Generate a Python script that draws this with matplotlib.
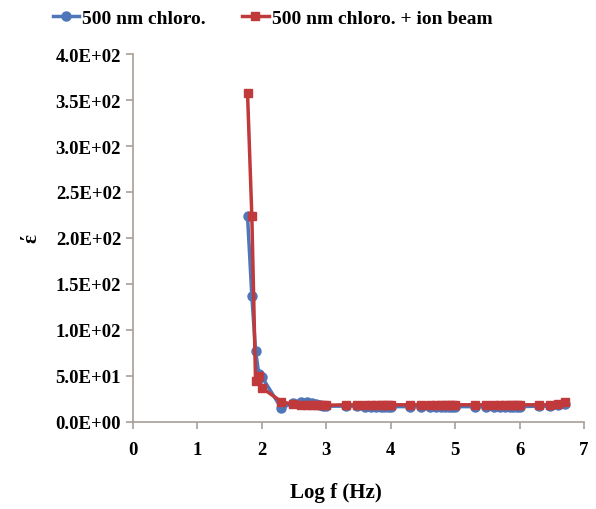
import numpy as np
import matplotlib
matplotlib.use('Agg')
import matplotlib.pyplot as plt
from matplotlib.ticker import FormatStrFormatter

plt.rcParams['font.family'] = ['Liberation Serif', 'DejaVu Serif']
plt.rcParams['font.weight'] = 'bold'

# measurement frequencies (Hz)
freq = [60, 70, 80, 90, 100,
        200, 300, 400, 500, 600, 700, 800, 900, 1000,
        2000, 3000, 4000, 5000, 6000, 7000, 8000, 9000, 10000,
        20000, 30000, 40000, 50000, 60000, 70000, 80000, 90000, 100000,
        200000, 300000, 400000, 500000, 600000, 700000, 800000, 900000, 1000000,
        2000000, 3000000, 4000000, 5000000]

eps_chloro = [224, 137, 77, 52, 49,
              15, 20, 21, 21, 20, 19, 18, 17, 17,
              17, 17, 16.5, 16.5, 16.5, 16.5, 16.5, 16.5, 16.5,
              16.5, 16.5, 16.5, 16.5, 16.5, 16.5, 16.5, 16.5, 16.5,
              16.5, 16.5, 16.5, 16.5, 16.5, 16.5, 16.5, 16.5, 16.5,
              17, 17, 18, 19]

eps_ion = [358, 224, 44, 50, 37,
           22, 19, 18, 18, 18, 18, 18, 18, 18,
           18.5, 18.5, 18.5, 18.5, 18.5, 18.5, 18.5, 18.5, 18.5,
           18.5, 18.5, 18.5, 18.5, 18.5, 18.5, 18.5, 18.5, 18.5,
           18.5, 18.5, 18.5, 18.5, 18.5, 18.5, 18.5, 18.5, 18.5,
           18.5, 18.5, 19.5, 21.5]

log_f = np.log10(freq)

fig = plt.figure(figsize=(5.96, 5.10), dpi=100)
ax = fig.add_axes([0.223, 0.171, 0.757, 0.721])

ax.plot(log_f, eps_chloro, color='#4f76b8', marker='o', markersize=6.5,
        linewidth=2.5, label='500 nm chloro.')
ax.plot(log_f, eps_ion, color='#c0393b', marker='s', markersize=6,
        linewidth=2.5, label='500 nm chloro. + ion beam')

ax.set_xlim(0, 7)
ax.set_ylim(0, 400)
ax.set_xticks(range(0, 8))
ax.set_yticks(np.arange(0, 401, 50))
ax.yaxis.set_major_formatter(FormatStrFormatter('%.1E'))

spine_col = '#a8a098'
for s in ['top', 'right']:
    ax.spines[s].set_visible(False)
for s in ['left', 'bottom']:
    ax.spines[s].set_color(spine_col)
    ax.spines[s].set_linewidth(1.2)
ax.tick_params(axis='both', colors=spine_col, length=5, width=1.2,
               labelcolor='black', labelsize=13.5)
ax.tick_params(axis='x', pad=9)
for lab in ax.get_xticklabels() + ax.get_yticklabels():
    lab.set_fontweight('bold')

ax.set_xlabel('Log f (Hz)', fontsize=15, fontweight='bold')
ax.xaxis.set_label_coords(0.45, -0.163)
ax.set_ylabel('έ', fontsize=15, fontweight='bold', labelpad=10, rotation=90)

fig.legend(loc='center', bbox_to_anchor=(0.457, 0.962), ncol=2, frameon=False,
           handlelength=1.35, handletextpad=0.15, columnspacing=1.9,
           prop={'weight': 'bold', 'size': 14})

fig.savefig('out.png', dpi=100)
